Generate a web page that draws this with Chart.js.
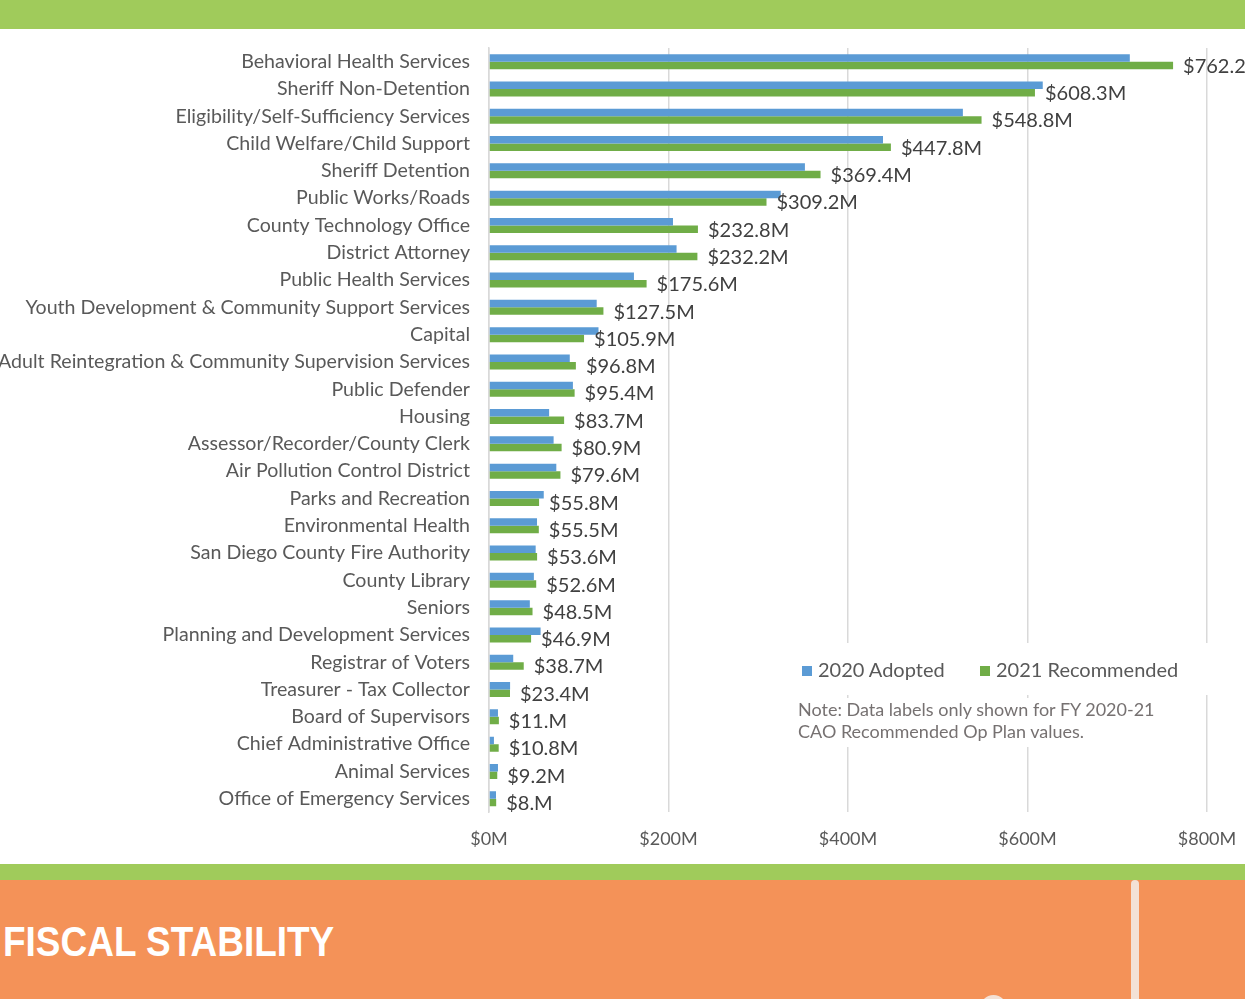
<!DOCTYPE html>
<html>
<head>
<meta charset="utf-8">
<script src="https://cdn.jsdelivr.net/npm/chart.js@4.4.1/dist/chart.umd.min.js"></script>
<style>
  body { margin: 0; width: 1245px; height: 999px; overflow: hidden; background: #fff; font-family: Lato, sans-serif; position: relative; }
  #banner { position: absolute; left: 0; top: 0; width: 1245px; height: 29px; background: #a0cb5b; }
  #wrap { position: absolute; left: 0; top: 30px; width: 1245px; height: 850px; }
  #strip { position: absolute; left: 0; top: 864px; width: 1245px; height: 16px; background: #a0cb5b; }
  #footer { position: absolute; left: 0; top: 880px; width: 1245px; height: 119px; background: #f49258; overflow: hidden; }
  #fiscal { position: absolute; left: 3px; top: 918px; color: #fff; font: bold 42px "Liberation Sans", Arial, sans-serif; transform: scaleX(0.88); transform-origin: left top; white-space: nowrap; }
  #pole { position: absolute; left: 1131px; top: 0; width: 8px; height: 130px; background: #f3e1d6; border-radius: 4px; }
  #ball { position: absolute; left: 980px; top: 115px; width: 27px; height: 27px; border-radius: 50%; background: #f3e1d6; }
  .box { position: absolute; background: #fff; }
  #legend { left: 795px; top: 643px; width: 420px; height: 52px; }
  #note { left: 790px; top: 698px; width: 400px; height: 49px; }
  .item { position: absolute; top: 14px; font-size: 20px; color: #595959; white-space: nowrap; line-height: 24px; }
  .sw { display: inline-block; width: 10px; height: 10px; margin-right: 6px; vertical-align: 1px; }
  #note div { font-size: 18px; color: #767171; line-height: 22px; padding: 0 0 0 8px; white-space: nowrap; }
</style>
</head>
<body>
<div id="banner"></div>
<div id="wrap"><canvas id="grafico"></canvas></div>
<div class="box" id="legend">
  <div class="item" style="left:7px"><span class="sw" style="background:#5b9bd5"></span>2020 Adopted</div>
  <div class="item" style="left:185px"><span class="sw" style="background:#70ad47"></span>2021 Recommended</div>
</div>
<div class="box" id="note">
  <div>Note: Data labels only shown for FY 2020-21</div>
  <div>CAO Recommended Op Plan values.</div>
</div>
<div id="strip"></div>
<div id="footer"><div id="pole"></div><div id="ball"></div></div>
<div id="fiscal">FISCAL STABILITY</div>
<script>
var departamentos = [
    "Behavioral Health Services",
    "Sheriff Non-Detention",
    "Eligibility/Self-Sufficiency Services",
    "Child Welfare/Child Support",
    "Sheriff Detention",
    "Public Works/Roads",
    "County Technology Office",
    "District Attorney",
    "Public Health Services",
    "Youth Development & Community Support Services",
    "Capital",
    "Adult Reintegration & Community Supervision Services",
    "Public Defender",
    "Housing",
    "Assessor/Recorder/County Clerk",
    "Air Pollution Control District",
    "Parks and Recreation",
    "Environmental Health",
    "San Diego County Fire Authority",
    "County Library",
    "Seniors",
    "Planning and Development Services",
    "Registrar of Voters",
    "Treasurer - Tax Collector",
    "Board of Supervisors",
    "Chief Administrative Office",
    "Animal Services",
    "Office of Emergency Services"
];

// valores em $M
var adotado2020 = [714, 617, 528, 439, 352, 325, 205, 209, 161.5, 120, 122, 90, 93.5, 67, 72, 75,
    61, 53.5, 52, 50, 45.5, 57.5, 27, 23.5, 10, 5.5, 10, 7.8];
var recomendado2021 = [762.2, 608.3, 548.8, 447.8, 369.4, 309.2, 232.8, 232.2, 175.6, 127.5, 105.9, 96.8, 95.4, 83.7, 80.9, 79.6,
    55.8, 55.5, 53.6, 52.6, 48.5, 46.9, 38.7, 23.4, 11.0, 10.8, 9.2, 8.0];

var ticksX = [0, 200, 400, 600, 800];

function formatarValor(v) {
    return "$" + (Number.isInteger(v) ? v + "." : v) + "M";
}

// rotulos so para a serie 2021
var rotulosPlugin = {
    id: "rotulos",
    afterDatasetsDraw: function(chart) {
        var ctx = chart.ctx;
        var meta = chart.getDatasetMeta(1);
        ctx.save();
        ctx.font = "20px Lato";
        ctx.fillStyle = "#404040";
        ctx.textBaseline = "middle";
        ctx.textAlign = "left";
        meta.data.forEach(function(bar, i) {
            ctx.fillText(formatarValor(recomendado2021[i]), bar.x + 10, bar.y + 1);
        });
        ctx.restore();
    }
};

var ctx = document.getElementById("grafico").getContext("2d");

new Chart(ctx, {
    type: "bar",
    data: {
        labels: departamentos,
        datasets: [{
            label: "2020 Adopted",
            backgroundColor: "#5b9bd5",
            data: adotado2020,
            categoryPercentage: 0.55,
            barPercentage: 1
        }, {
            label: "2021 Recommended",
            backgroundColor: "#70ad47",
            data: recomendado2021,
            categoryPercentage: 0.55,
            barPercentage: 1
        }]
    },
    options: {
        indexAxis: "y",
        responsive: true,
        maintainAspectRatio: false,
        animation: false,
        layout: {
            padding: { top: 18, right: 38, bottom: 14, left: 0 }
        },
        plugins: {
            legend: { display: false },
            tooltip: { enabled: false }
        },
        scales: {
            x: {
                min: 0,
                max: 800,
                afterBuildTicks: function(scale) {
                    scale.ticks = ticksX.map(function(v) { return { value: v }; });
                },
                afterFit: function(scale) {
                    scale.paddingLeft = 0;
                    scale.paddingRight = 0;
                },
                grid: {
                    display: true,
                    drawTicks: false,
                    color: "#d9d9d9",
                    lineWidth: 1.5
                },
                border: { display: false },
                ticks: {
                    color: "#595959",
                    padding: 16,
                    maxRotation: 0,
                    font: { size: 18, family: "Lato" },
                    callback: function(v) { return "$" + v + "M"; }
                }
            },
            y: {
                afterFit: function(scale) {
                    scale.width = 489;
                    scale.paddingTop = 0;
                    scale.paddingBottom = 0;
                },
                grid: { display: false, drawTicks: false },
                border: { display: true, color: "#d9d9d9", width: 1.5 },
                ticks: {
                    color: "#595959",
                    padding: 19,
                    autoSkip: false,
                    font: { size: 19.6, family: "Lato" }
                }
            }
        }
    },
    plugins: [rotulosPlugin]
});
</script>
</body>
</html>
